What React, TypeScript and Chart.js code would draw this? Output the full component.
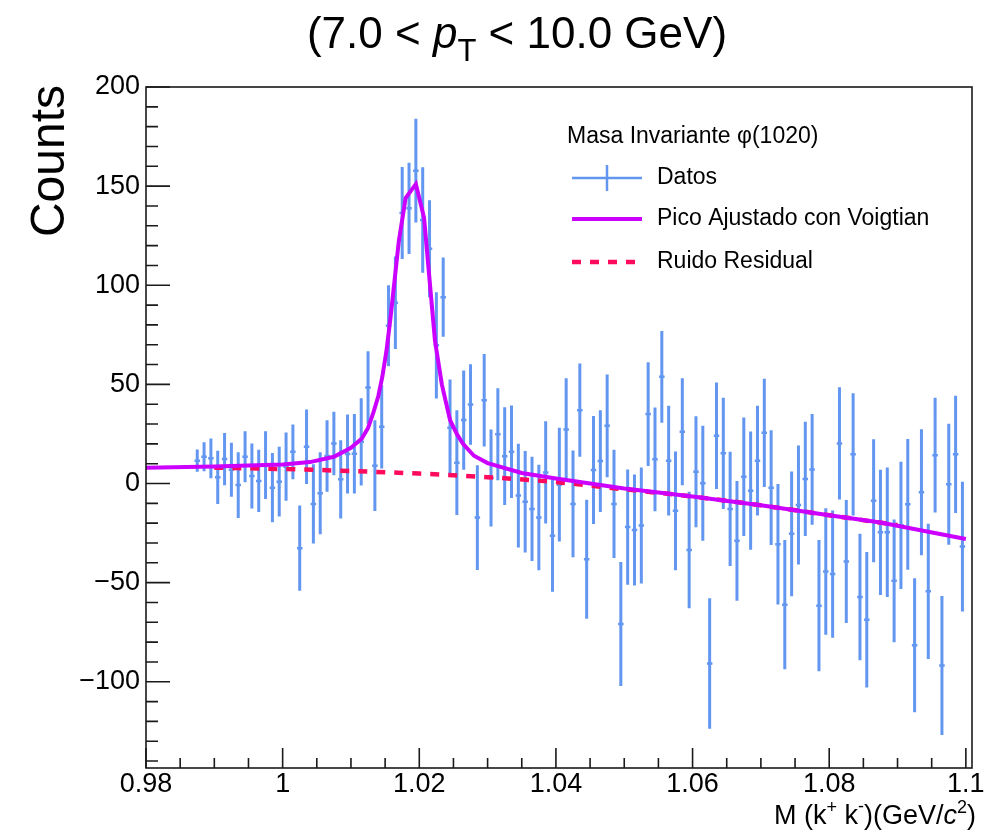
import React, { useEffect, useRef } from 'react';
import { Chart, registerables } from 'chart.js';

Chart.register(...registerables);

// ---- Histogram (bins of width 0.001 GeV/c^2, first bin centre 0.9875) ----
const BIN_FIRST_CENTER = 0.9875;
const BIN_WIDTH = 0.001;

const COUNTS = [
  11.5, 13.5, 12.7, 3.1, 12.3, 6.9, -0.8, 13.5, 3.8, 1.3,
  9.3, -2.1, 0.9, 8.5, 16, -32.6, 18.5, -10.3, -4.9, 13.9,
  20.2, 2.1, 14.9, 15, 21, 48.4, 9, 28.6, 79.6, 91.2,
  136.5, 138.8, 157.8, 132.9, 118.4, 69.7, 94, 28.1, 10.5, 32,
  39.8, -17.2, 42, 2.8, 24.8, 13.8, 16, -6.1, -9.2, -12.8,
  -17.2, 5.6, -26.3, -0.6, 27.3, -10.3, 37, -38.2, 6.8, 11.3,
  29.1, -10.3, -70.9, -22, -23.4, -21.2, 35, 12.2, 53.8, 11.5,
  -13.8, 26.1, -33.5, 5.9, 0.1, -90.8, 24.1, 15.2, -12.8, -28.9,
  3.4, -3.6, 11.5, 25.6, -2.1, -30.6, -61.1, -25.4, -10.8, 2.3,
  7.1, -61.6, -44.4, -45.7, 20.2, -39.3, 14.7, -57.3, -68.7, -8.7,
  -24.6, -24.6, -49.1, -21.1, -10.5, -81.6, -4.4, -54.4, 14.3, -91.8,
  -0.4, 14.7, -31.8,
];

const ERRORS = [
  5.6, 7.3, 10, 13.4, 13.2, 13.6, 16.6, 12.9, 16.4, 15.7,
  17.1, 17.5, 17.6, 17.2, 13.8, 21.5, 18.8, 20, 20.7, 18,
  16, 19.7, 19.9, 20, 22, 18.3, 22.9, 21, 20.4, 23.3,
  23.2, 23, 26.2, 26.6, 24.5, 26.8, 20, 24.4, 26.4, 25,
  20.3, 26.4, 23.3, 24.5, 23.2, 24.7, 23.3, 26.2, 25.6, 26.3,
  26.6, 25.8, 28.3, 28.7, 25.8, 26.9, 23.5, 30, 27.2, 25.7,
  25.9, 27.3, 31.3, 29.1, 28, 29.3, 26.2, 26.2, 23.1, 27.7,
  30, 27, 29.4, 28, 29, 32.9, 26.9, 28.1, 28.8, 30.2,
  29.9, 29.8, 27.7, 27.3, 28.9, 30.4, 32.6, 31.5, 30, 28.8,
  27.9, 33.1, 31.9, 32.1, 28.3, 31, 30.8, 31.9, 34.2, 31,
  31.6, 32.7, 31, 32.1, 33, 33.8, 31.8, 34.1, 28.9, 35.1,
  30.5, 29.6, 32.7,
];

// ---- Fitted curve (Voigtian peak + background) ----
const FIT_X = [
  0.98, 0.99, 1.0, 1.004, 1.0075, 1.01, 1.0116, 1.0125, 1.0133, 1.014,
  1.0146, 1.0152, 1.0158, 1.0164, 1.017, 1.018, 1.0195, 1.0207, 1.0216, 1.0223,
  1.0233, 1.0245, 1.0255, 1.0264, 1.028, 1.03, 1.035, 1.04, 1.05, 1.06,
  1.07, 1.08, 1.0875, 1.1,
];
const FIT_Y = [
  8.0, 8.6, 9.6, 10.8, 13.5, 18.0, 22.7, 28, 36, 44,
  54, 67, 84, 103, 122, 144, 151, 134, 99, 72,
  50, 32, 25, 20, 14, 10.3, 5.3, 2.5, -2.5, -6.5,
  -11, -16, -19.7, -28,
];

// ---- Residual background ----
const BKG_X = [0.99, 1.0, 1.01, 1.02, 1.03, 1.04, 1.05, 1.06, 1.07, 1.08, 1.09];
const BKG_Y = [8, 7.3, 6.3, 5, 3.2, 0.7, -2.9, -6.6, -11, -16, -21];

// ---- Axes ----
const X_MIN = 0.98;
const X_MAX = 1.1009;
const Y_MIN = -143.5;
const Y_MAX = 200;
const X_TICKS = [0.98, 1.0, 1.02, 1.04, 1.06, 1.08, 1.1];
const X_TICK_LABELS = ['0.98', '1', '1.02', '1.04', '1.06', '1.08', '1.1'];
const X_MINOR_STEP = 0.005;
const Y_TICKS = [-100, -50, 0, 50, 100, 150, 200];
const Y_TICK_LABELS = ['\u2212100', '\u221250', '0', '50', '100', '150', '200'];
const Y_MINOR_STEP = 10;

// ---- Texts ----
const LEGEND_HEADER = 'Masa Invariante \u03C6(1020)';
const LEGEND_LABELS = ['Datos', 'Pico Ajustado con Voigtian', 'Ruido Residual'];
const Y_TITLE = 'Counts';

const COLOR_DATA = 'rgb(98,150,240)';
const COLOR_FIT = '#cc00ff';
const COLOR_BKG = '#ff0a5c';
const FONT = '"Liberation Sans", Arial, Helvetica, sans-serif';

type Run = { t: string; size: number; italic?: boolean; dy?: number };

function drawRuns(ctx: CanvasRenderingContext2D, runs: Run[], x: number, y: number, align: 'center' | 'right' | 'left') {
  ctx.textAlign = 'left';
  ctx.textBaseline = 'alphabetic';
  const widths = runs.map((r) => {
    ctx.font = `${r.italic ? 'italic ' : ''}${r.size}px ${FONT}`;
    return ctx.measureText(r.t).width;
  });
  const total = widths.reduce((a, b) => a + b, 0);
  let cx = align === 'center' ? x - total / 2 : align === 'right' ? x - total : x;
  runs.forEach((r, i) => {
    ctx.font = `${r.italic ? 'italic ' : ''}${r.size}px ${FONT}`;
    ctx.fillText(r.t, cx, y + (r.dy || 0));
    cx += widths[i];
  });
}

const rootDecor = {
  id: 'rootDecor',
  afterDraw(chart: any) {
    const { ctx, chartArea: a, scales } = chart;
    const xs = scales.x;
    const ys = scales.y;
    ctx.save();
    // frame
    ctx.strokeStyle = '#1a1a1a';
    ctx.lineWidth = 1.6;
    ctx.strokeRect(a.left, a.top, a.right - a.left, a.bottom - a.top);
    // y ticks (inside)
    ctx.beginPath();
    for (let v = -140; v <= Y_MAX + 1e-9; v += Y_MINOR_STEP) {
      const py = ys.getPixelForValue(v);
      if (py < a.top - 0.5 || py > a.bottom + 0.5) continue;
      const major = Y_TICKS.includes(Math.round(v));
      const len = major ? 24 : 12;
      ctx.moveTo(a.left, py);
      ctx.lineTo(a.left + len, py);
    }
    // x ticks (inside)
    for (let k = 0; k <= 24; k++) {
      const v = X_MIN + k * X_MINOR_STEP;
      const px = xs.getPixelForValue(v);
      const major = k % 4 === 0;
      const len = major ? 20 : 10;
      ctx.moveTo(px, a.bottom);
      ctx.lineTo(px, a.bottom - len);
    }
    ctx.stroke();

    ctx.fillStyle = '#000';
    // title
    drawRuns(
      ctx,
      [
        { t: '(7.0 < ', size: 44 },
        { t: 'p', size: 44, italic: true },
        { t: 'T', size: 31, dy: 13 },
        { t: ' < 10.0 GeV)', size: 44 },
      ],
      517,
      48,
      'center'
    );
    // x title
    drawRuns(
      ctx,
      [
        { t: 'M (k', size: 27 },
        { t: '+', size: 18, dy: -11 },
        { t: ' k', size: 27 },
        { t: '-', size: 18, dy: -12 },
        { t: ')(GeV/', size: 27 },
        { t: 'c', size: 27, italic: true },
        { t: '2', size: 18, dy: -11 },
        { t: ')', size: 27 },
      ],
      976,
      824,
      'right'
    );
    // y title
    ctx.save();
    ctx.translate(64, 85);
    ctx.rotate(-Math.PI / 2);
    ctx.font = `48px ${FONT}`;
    ctx.textAlign = 'right';
    ctx.textBaseline = 'alphabetic';
    ctx.fillText(Y_TITLE, 0, 0);
    ctx.restore();

    // legend
    const lx0 = 572;
    const lx1 = 642;
    const tx = 657;
    const rows = [178, 219, 262];
    ctx.font = `23px ${FONT}`;
    ctx.textAlign = 'left';
    ctx.textBaseline = 'middle';
    ctx.fillText(LEGEND_HEADER, 567, 137);
    LEGEND_LABELS.forEach((lab, i) => ctx.fillText(lab, tx, rows[i]));
    // Datos symbol
    ctx.strokeStyle = COLOR_DATA;
    ctx.lineWidth = 2.5;
    ctx.beginPath();
    ctx.moveTo(lx0, rows[0]);
    ctx.lineTo(lx1, rows[0]);
    ctx.moveTo((lx0 + lx1) / 2, rows[0] - 13);
    ctx.lineTo((lx0 + lx1) / 2, rows[0] + 13);
    ctx.stroke();
    // fit symbol
    ctx.strokeStyle = COLOR_FIT;
    ctx.lineWidth = 4;
    ctx.beginPath();
    ctx.moveTo(lx0, rows[1]);
    ctx.lineTo(lx1, rows[1]);
    ctx.stroke();
    // bkg symbol
    ctx.strokeStyle = COLOR_BKG;
    ctx.lineWidth = 4.5;
    ctx.setLineDash([9, 9]);
    ctx.beginPath();
    ctx.moveTo(lx0, rows[2]);
    ctx.lineTo(lx1 + 2, rows[2]);
    ctx.stroke();
    ctx.setLineDash([]);
    ctx.restore();
  },
};

export default function App() {
  const canvasRef = useRef<HTMLCanvasElement | null>(null);

  useEffect(() => {
    const canvas = canvasRef.current;
    if (!canvas) return;

    const centers = COUNTS.map((_, i) => +(BIN_FIRST_CENTER + i * BIN_WIDTH).toFixed(4));
    const errBars: any[] = [];
    const markers: any[] = [];
    centers.forEach((x, i) => {
      errBars.push({ x, y: COUNTS[i] - ERRORS[i] }, { x, y: COUNTS[i] + ERRORS[i] }, { x, y: null });
      markers.push(
        { x: x - 0.0004, y: COUNTS[i] },
        { x: x + 0.0004, y: COUNTS[i] },
        { x: x + 0.0004, y: null }
      );
    });
    const fitData = FIT_X.map((x, i) => ({ x, y: FIT_Y[i] }));
    const bkgData = BKG_X.map((x, i) => ({ x, y: BKG_Y[i] }));

    const chart = new Chart(canvas, {
      type: 'line',
      data: {
        datasets: [
          {
            label: 'Datos',
            data: errBars,
            borderColor: COLOR_DATA,
            borderWidth: 3,
            pointRadius: 0,
            spanGaps: false,
            order: 4,
          },
          {
            label: 'Datos markers',
            data: markers,
            borderColor: COLOR_DATA,
            borderWidth: 2.5,
            pointRadius: 0,
            spanGaps: false,
            order: 3,
          },
          {
            label: 'Ruido Residual',
            data: bkgData,
            borderColor: COLOR_BKG,
            borderWidth: 4.5,
            borderDash: [9, 9],
            pointRadius: 0,
            cubicInterpolationMode: 'monotone',
            order: 2,
          },
          {
            label: 'Pico Ajustado con Voigtian',
            data: fitData,
            borderColor: COLOR_FIT,
            borderWidth: 4,
            pointRadius: 0,
            tension: 0,
            order: 1,
          },
        ],
      } as any,
      options: {
        responsive: false,
        maintainAspectRatio: false,
        animation: false,
        events: [],
        layout: { padding: { top: 87, right: 23, left: 0, bottom: 0 } },
        plugins: {
          legend: { display: false },
          title: { display: false },
          tooltip: { enabled: false },
        },
        scales: {
          x: {
            type: 'linear',
            min: X_MIN,
            max: X_MAX,
            grid: { display: false, drawTicks: false },
            border: { display: false },
            afterBuildTicks: (axis: any) => {
              axis.ticks = X_TICKS.map((v) => ({ value: v }));
            },
            afterFit: (axis: any) => {
              axis.height = 64;
            },
            ticks: {
              autoSkip: false,
              maxRotation: 0,
              padding: 0,
              color: '#000',
              font: { family: FONT, size: 27 },
              callback: (_v: any, i: number) => X_TICK_LABELS[i],
            },
          },
          y: {
            type: 'linear',
            min: Y_MIN,
            max: Y_MAX,
            grid: { display: false, drawTicks: false },
            border: { display: false },
            afterBuildTicks: (axis: any) => {
              axis.ticks = Y_TICKS.map((v) => ({ value: v }));
            },
            afterFit: (axis: any) => {
              axis.width = 146;
            },
            ticks: {
              autoSkip: false,
              padding: 6,
              color: '#000',
              font: { family: FONT, size: 27 },
              callback: (_v: any, i: number) => Y_TICK_LABELS[i],
            },
          },
        },
      } as any,
      plugins: [rootDecor],
    });

    return () => {
      chart.destroy();
    };
  }, []);

  return (
    <div style={{ position: 'absolute', left: 0, top: 0, width: 995, height: 832, background: '#fff' }}>
      <canvas ref={canvasRef} width={995} height={832} style={{ display: 'block' }} />
    </div>
  );
}
